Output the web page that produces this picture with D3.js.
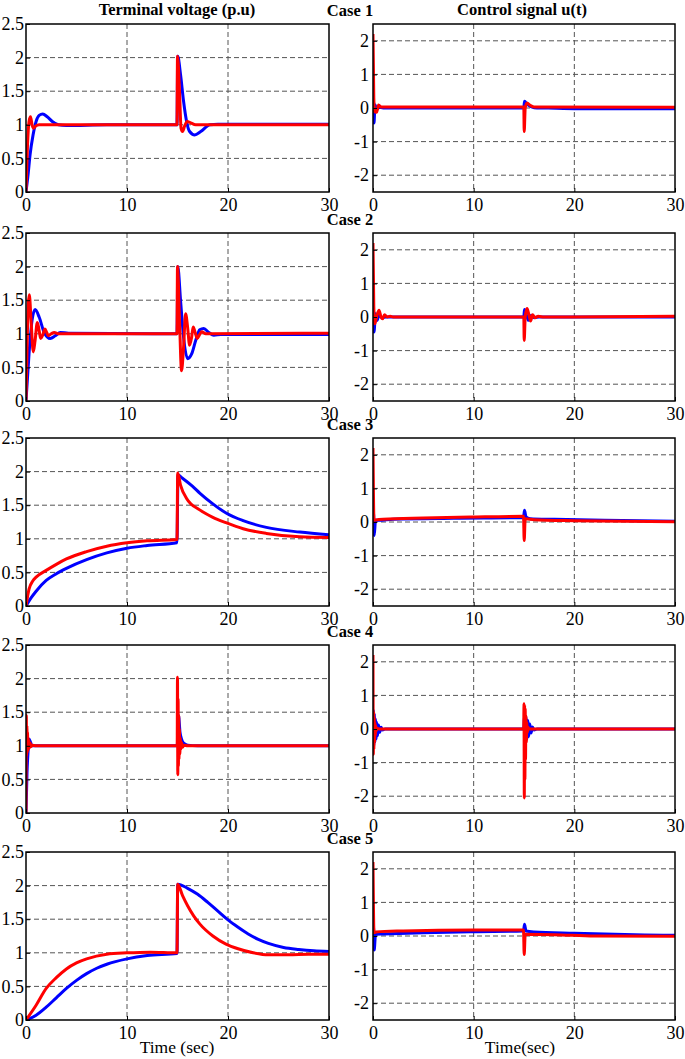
<!DOCTYPE html>
<meta charset="utf-8">
<head>
  <script src="https://d3js.org/d3.v7.min.js"></script>
  <style>
    html, body { margin: 0; padding: 0; background: #fff; }
    svg { display: block; font-family: "Liberation Serif", "Times New Roman", serif; }
    .tick text { font-size: 18px; fill: #000; font-family: "Liberation Serif", "Times New Roman", serif; }
    .grid line { stroke: #555; stroke-width: 1; stroke-dasharray: 5,3; }
  </style>
</head>
<body>
<svg id="chart" width="685" height="1059"></svg>
<script>
  // ticks and labels
  const timeTicks = [0, 10, 20, 30]
  const voltTicks = [0, 0.5, 1, 1.5, 2, 2.5]
  const ctrlTicks = [-2, -1, 0, 1, 2]
  const caseLabels = ["Case 1", "Case 2", "Case 3", "Case 4", "Case 5"]

  // terminal voltage, [time, value]
  const v1Blue = [[0,0],[0.2,0.25],[0.4,0.55],[0.7,0.85],[1.0,1.05],[1.3,1.14],[1.65,1.16],[2.1,1.12],[2.6,1.05],[3.2,1.0],[4,0.99],[8,1.0],[14.95,1.0],[15.02,2.02],[15.3,1.75],[15.6,1.35],[15.9,1.05],[16.2,0.9],[16.7,0.85],[17.3,0.9],[18.2,1.0],[19,1.01],[30,1.01]]
  const v1Red = [[0,0],[0.15,0.7],[0.3,1.05],[0.45,1.12],[0.6,1.0],[0.75,0.95],[0.95,0.98],[1.3,1.0],[14.95,1.0],[15.0,2.02],[15.2,1.5],[15.35,0.95],[15.5,0.9],[15.7,0.98],[15.95,1.05],[16.3,1.03],[16.8,1.0],[30,1.0]]
  const v2Blue = [[0,0],[0.3,0.7],[0.6,1.2],[0.9,1.36],[1.3,1.25],[1.8,1.02],[2.4,0.93],[2.9,0.97],[3.4,1.02],[4.2,1.01],[14.95,1.0],[15.03,2.0],[15.3,1.5],[15.6,0.95],[16.0,0.63],[16.4,0.7],[16.8,0.9],[17.2,1.06],[17.6,1.08],[18.1,1.02],[18.6,0.98],[19.3,0.99],[30,0.99]]
  const v2Red = [[0,0],[0.15,1.1],[0.33,1.58],[0.5,1.2],[0.72,0.73],[0.9,0.9],[1.12,1.17],[1.3,1.05],[1.45,0.93],[1.65,0.98],[1.88,1.07],[2.05,1.02],[2.2,0.97],[2.5,1.0],[2.8,1.02],[3.2,1.0],[14.95,1.0],[15.0,2.0],[15.2,1.2],[15.4,0.45],[15.6,0.8],[15.8,1.3],[16.0,1.1],[16.2,0.83],[16.4,0.95],[16.55,1.1],[16.75,1.02],[16.95,0.93],[17.2,0.99],[17.4,1.03],[17.8,1.0],[30,1.01]]
  const v3Blue = [[0,0],[0.5,0.12],[1,0.22],[2,0.38],[3,0.48],[4,0.56],[6,0.69],[8,0.79],[10,0.86],[12,0.9],[14.95,0.94],[15.05,1.95],[15.5,1.9],[16.5,1.78],[17.2,1.68],[18.5,1.52],[19.85,1.38],[21.5,1.27],[23.8,1.17],[27.1,1.1],[30,1.06]]
  const v3Red = [[0,0],[0.3,0.25],[0.7,0.38],[1,0.43],[2,0.53],[3,0.62],[4,0.7],[6,0.81],[8,0.89],[10,0.94],[12,0.97],[14.95,0.99],[15.02,1.98],[15.3,1.8],[15.9,1.6],[17.2,1.43],[18.5,1.32],[19.8,1.24],[21.5,1.15],[23.8,1.08],[27.1,1.03],[30,1.02]]
  const v4Blue = [[0,0],[0.1,0.6],[0.2,0.9],[0.3,1.1],[0.45,1.05],[0.6,1.0],[1,1.0],[14.97,1.0],[15.1,1.45],[15.25,1.2],[15.4,1.1],[15.6,1.04],[16,1.01],[17,1.0],[30,1.0]]
  const v4Red = [[0,0],[0.03,1.45],[0.06,0.85],[0.09,1.3],[0.12,0.9],[0.15,1.2],[0.18,0.92],[0.22,1.12],[0.26,0.95],[0.3,1.07],[0.35,0.97],[0.42,1.04],[0.5,0.99],[0.6,1.01],[1,1.0],[14.97,1.0],[15.0,2.02],[15.03,0.57],[15.06,1.7],[15.09,0.7],[15.12,1.45],[15.15,0.8],[15.19,1.25],[15.23,0.88],[15.28,1.12],[15.33,0.95],[15.4,1.05],[15.5,0.98],[15.65,1.01],[16,1.0],[30,1.0]]
  const v5Blue = [[0,0],[1,0.07],[2,0.19],[3,0.33],[4,0.47],[5,0.59],[6,0.69],[7,0.77],[8,0.83],[10,0.91],[12,0.96],[14.95,0.99],[15.02,2.02],[16,1.96],[17,1.87],[18,1.75],[19,1.62],[20,1.49],[21,1.38],[22,1.28],[23,1.2],[24,1.14],[25.5,1.08],[27,1.05],[28.5,1.03],[30,1.02]]
  const v5Red = [[0,0],[1,0.22],[2,0.47],[3,0.63],[4,0.76],[5,0.85],[6,0.91],[8,0.98],[10,1.0],[12.3,1.01],[14.95,1.0],[15.02,2.02],[15.5,1.85],[16,1.7],[16.6,1.55],[17.2,1.43],[18.5,1.25],[19.8,1.13],[21,1.06],[22.5,1.0],[24,0.97],[26,0.97],[28,0.98],[30,0.98]]

  // control signal u(t), [time, value]
  const u1Blue = [[0,0],[0.05,0.25],[0.1,-0.45],[0.2,0.1],[0.35,-0.05],[0.6,0.02],[1,0],[14.98,0],[15.05,0.2],[15.3,0.12],[15.6,0.05],[16,0.01],[17,0],[20,-0.02],[30,-0.02]]
  const u1Red = [[0,2.2],[0.08,0.3],[0.15,-0.1],[0.35,-0.13],[0.55,0.09],[0.8,0.03],[14.98,0.03],[15.02,-0.7],[15.12,0.0],[15.3,0.15],[15.6,0.08],[16,0.03],[30,0.02]]
  const u2Blue = [[0,0],[0.05,0.25],[0.1,-0.45],[0.25,0.1],[0.4,-0.1],[0.6,0.05],[0.9,-0.02],[1.3,0],[14.98,0],[15.05,0.22],[15.25,0.05],[15.45,-0.1],[15.7,0.05],[16,-0.02],[16.5,0],[30,0]]
  const u2Red = [[0,2.2],[0.08,0.3],[0.18,-0.2],[0.35,0.0],[0.6,0.2],[0.8,0.0],[0.95,-0.05],[1.15,0.07],[1.4,0.0],[1.7,0.02],[2,0],[14.98,0],[15.02,-0.7],[15.12,0.0],[15.3,0.25],[15.5,0.05],[15.65,-0.12],[15.85,0.07],[16.1,-0.02],[16.4,0.02],[17,0],[30,0.02]]
  const u3Blue = [[0,0],[0.05,0.3],[0.12,-0.4],[0.25,0.05],[0.5,0.05],[2,0.08],[8,0.11],[14.95,0.13],[15.05,0.35],[15.2,0.15],[15.6,0.1],[18,0.08],[23,0.05],[30,0.02]]
  const u3Red = [[0,2.2],[0.1,0.05],[0.3,0.06],[1,0.08],[5,0.12],[10,0.15],[14.95,0.17],[15.02,-0.55],[15.12,0.1],[16,0.07],[20,0.04],[25,0.02],[30,0.01]]
  const u4Blue = [[0,0],[0.04,0.55],[0.08,-0.5],[0.13,0.45],[0.18,-0.4],[0.24,0.3],[0.3,-0.3],[0.37,0.2],[0.45,-0.2],[0.55,0.12],[0.65,-0.1],[0.8,0.05],[0.95,-0.03],[1.2,0],[14.98,0],[15.05,0.4],[15.12,-0.4],[15.2,0.35],[15.28,-0.3],[15.37,0.25],[15.47,-0.22],[15.58,0.15],[15.7,-0.12],[15.85,0.06],[16,-0.03],[16.3,0],[30,0]]
  const u4Red = [[0,2.2],[0.03,-0.75],[0.06,0.5],[0.09,-0.6],[0.12,0.35],[0.15,-0.4],[0.19,0.2],[0.23,-0.2],[0.28,0.1],[0.33,-0.05],[0.4,0.02],[0.6,0],[14.97,0],[15.0,0.75],[15.03,-2.05],[15.06,0.7],[15.09,-1.5],[15.12,0.6],[15.15,-0.9],[15.19,0.4],[15.23,-0.4],[15.28,0.2],[15.33,-0.1],[15.4,0.05],[15.5,0],[30,0]]
  const u5Blue = [[0,0],[0.05,0.3],[0.12,-0.42],[0.25,0.05],[1,0.06],[5,0.1],[10,0.13],[14.95,0.15],[15.05,0.35],[15.2,0.15],[16,0.12],[20,0.08],[27,0.03],[30,0.02]]
  const u5Red = [[0,2.2],[0.1,0.1],[0.3,0.12],[3,0.15],[10,0.18],[14.95,0.18],[15.02,-0.55],[15.12,0.05],[18,0.04],[22,0.0],[30,-0.01]]

  const voltSeries = [[v1Blue, v1Red], [v2Blue, v2Red], [v3Blue, v3Red], [v4Blue, v4Red], [v5Blue, v5Red]]
  const ctrlSeries = [[u1Blue, u1Red], [u2Blue, u2Red], [u3Blue, u3Red], [u4Blue, u4Red], [u5Blue, u5Red]]
  const colors = ["#0000ff", "#ff0000"]

  const svg = d3.select("#chart")
  const rowTops = [24, 233, 438, 645, 852]
  const plotH = 168
  const cols = [
    { x0: 26, x1: 329, domain: [0, 2.5], ticks: voltTicks, pad: 2, series: voltSeries },
    { x0: 373, x1: 675, domain: [-2.5, 2.5], ticks: ctrlTicks, pad: 4, series: ctrlSeries }
  ]

  let clipId = 0

  function drawPanel(col, top, data) {
    let x = d3.scaleLinear().domain([0, 30]).range([col.x0, col.x1])
    let y = d3.scaleLinear().domain(col.domain).range([top + plotH, top])
    let g = svg.append("g")

    // grid
    let grid = g.append("g").attr("class", "grid")
    grid.selectAll(".gx").data(timeTicks.slice(1, -1)).enter().append("line")
      .attr("x1", d => x(d)).attr("x2", d => x(d))
      .attr("y1", top).attr("y2", top + plotH)
    grid.selectAll(".gy").data(col.ticks.filter(d => y(d) > top + 2 && y(d) < top + plotH - 2)).enter().append("line")
      .attr("x1", col.x0).attr("x2", col.x1)
      .attr("y1", d => y(d)).attr("y2", d => y(d))

    // curves
    let id = "clip" + (clipId++)
    g.append("clipPath").attr("id", id).append("rect")
      .attr("x", col.x0).attr("y", top).attr("width", col.x1 - col.x0).attr("height", plotH)
    let line = d3.line().x(d => x(d[0])).y(d => y(d[1])).curve(d3.curveMonotoneX)
    g.append("g").attr("clip-path", "url(#" + id + ")")
      .selectAll("path").data(data).enter().append("path")
      .attr("d", line)
      .attr("fill", "none")
      .attr("stroke", (d, i) => colors[i])
      .attr("stroke-width", 3)
      .attr("stroke-linejoin", "round")

    // axes
    let ax = g.append("g").attr("transform", "translate(0," + (top + plotH) + ")")
      .call(d3.axisBottom(x).tickValues(timeTicks).tickFormat(d => String(d)).tickSize(-4).tickPadding(6))
    let ay = g.append("g").attr("transform", "translate(" + col.x0 + ",0)")
      .call(d3.axisLeft(y).tickValues(col.ticks).tickFormat(d => String(d)).tickSize(-4).tickPadding(col.pad))
    ax.attr("font-family", null)
    ay.attr("font-family", null)
    ax.select(".domain").remove()
    ay.select(".domain").remove()
    ax.selectAll(".tick line").attr("stroke", "#000")
    ay.selectAll(".tick line").attr("stroke", "#000")

    g.append("rect")
      .attr("x", col.x0).attr("y", top)
      .attr("width", col.x1 - col.x0).attr("height", plotH)
      .attr("fill", "none").attr("stroke", "#000").attr("stroke-width", 1.5)
  }

  rowTops.forEach((top, r) => {
    cols.forEach(col => drawPanel(col, top, col.series[r]))
    svg.append("text")
      .attr("x", 350).attr("y", top - 8)
      .attr("text-anchor", "middle")
      .style("font-weight", "bold").style("font-size", "16.5px")
      .text(caseLabels[r])
  })

  // column titles
  svg.append("text").attr("x", 177).attr("y", 15).attr("text-anchor", "middle")
    .style("font-weight", "bold").style("font-size", "16.5px")
    .text("Terminal voltage (p.u)")
  svg.append("text").attr("x", 522).attr("y", 15).attr("text-anchor", "middle")
    .style("font-weight", "bold").style("font-size", "16.5px")
    .text("Control signal u(t)")

  // x axis labels
  svg.append("text").attr("x", 177).attr("y", 1053).attr("text-anchor", "middle")
    .style("font-size", "17.5px").text("Time (sec)")
  svg.append("text").attr("x", 520).attr("y", 1053).attr("text-anchor", "middle")
    .style("font-size", "17.5px").text("Time(sec)")
</script>
</body>
